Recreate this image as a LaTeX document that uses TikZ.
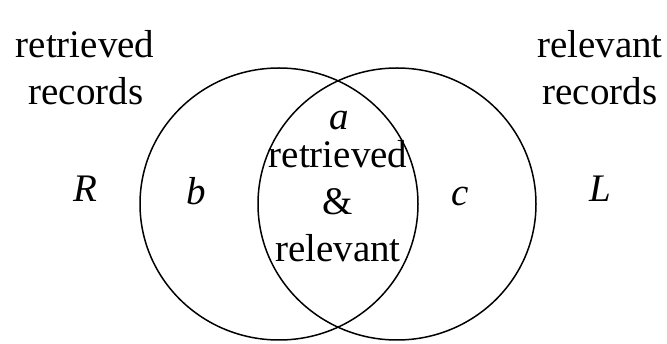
\documentclass[tikz,border=0pt]{standalone}
\usepackage{fontspec}
\setmainfont{Liberation Serif}
\usetikzlibrary{shapes.geometric}
\begin{document}
\begin{tikzpicture}[x=1pt,y=-1pt,
  lbl/.style={font=\fontsize{39}{47}\selectfont, inner sep=0pt, anchor=base},
  ring/.style={draw=black, line width=1.5pt, ellipse, inner sep=0pt,
    minimum width=278pt, minimum height=272pt}]
\useasboundingbox (0,0) rectangle (667,344);
\node[ring] (left) at (279,204) {};
\node[ring] (right) at (397,204) {};
\node[lbl] (t1) at (85,58) {retrieved};
\node[lbl] (t2) at (86,105) {records};
\node[lbl] (t3) at (600,58) {relevant};
\node[lbl] (t4) at (600,105) {records};
\node[lbl] (R) at (85,202) {\itshape R};
\node[lbl] (b) at (196,205) {\itshape b};
\node[lbl] (c) at (460,206) {\itshape c};
\node[lbl] (L) at (600,202) {\itshape L};
\node[lbl] (a) at (339,130) {\itshape a};
\node[lbl] (m1) at (338,168) {retrieved};
\node[lbl] (m2) at (338,215) {\&};
\node[lbl] (m3) at (338,262) {relevant};
\end{tikzpicture}
\end{document}
